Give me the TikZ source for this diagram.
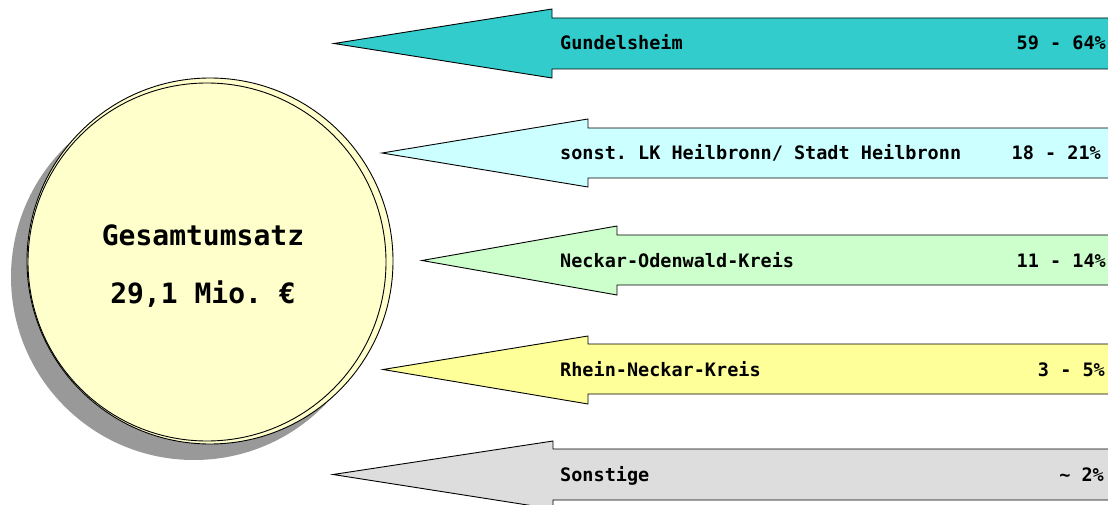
\documentclass[tikz,border=0pt]{standalone}
\usepackage{fontspec}
\setmonofont{DejaVu Sans Mono}
\usetikzlibrary{positioning}

\definecolor{teal}{HTML}{33CCCC}
\definecolor{icecyan}{HTML}{CCFFFF}
\definecolor{mintgreen}{HTML}{CCFFCC}
\definecolor{paleyellow}{HTML}{FFFF99}
\definecolor{lightgrey}{HTML}{DDDDDD}
\definecolor{cream}{HTML}{FFFFCC}
\definecolor{shadowgrey}{HTML}{999999}

\begin{document}
\begin{tikzpicture}[x=1pt,y=-1pt]
		\tikzstyle{Coin} = [circle, inner sep=0pt, draw=black, line width=0.9pt, fill=cream]
		\tikzstyle{Region} = [draw=black, line width=0.9pt, line join=miter]
		\tikzstyle{Label} = [inner sep=0pt, font=\ttfamily\bfseries\fontsize{18.5}{20}\selectfont]
		\tikzstyle{Total} = [inner sep=0pt, font=\ttfamily\bfseries\fontsize{28}{30}\selectfont]
		
		\useasboundingbox (0,0) rectangle (1108,505);
		
		% total turnover
		\node (shadow) [circle, inner sep=0pt, fill=shadowgrey, minimum size=366pt] at (194,277) {};
		\node (backCoin) [Coin, minimum size=366pt] at (210,261) {};
		\node (frontCoin) [Coin, minimum size=358pt] at (207,262) {};
		\node (total) [Total, anchor=base] at (203,245) {Gesamtumsatz};
		\node (amount) [Total, anchor=base] at (203,303) {29,1 Mio. €};
		
		% shares
		\draw [Region, fill=teal] (334,43.5) -- (552,9) -- (552,18) -- (1130,18) -- (1130,69) -- (552,69) -- (552,78) -- cycle;
		\draw [Region, fill=icecyan] (382,153) -- (588,119) -- (588,128) -- (1130,128) -- (1130,178) -- (588,178) -- (588,187) -- cycle;
		\draw [Region, fill=mintgreen] (422,260.5) -- (617,226) -- (617,235) -- (1130,235) -- (1130,285) -- (617,285) -- (617,295) -- cycle;
		\draw [Region, fill=paleyellow] (383,369.5) -- (588,336) -- (588,344) -- (1130,344) -- (1130,394) -- (588,394) -- (588,404) -- cycle;
		\draw [Region, fill=lightgrey] (333,474.5) -- (553,441) -- (553,449) -- (1130,449) -- (1130,500) -- (553,500) -- (553,509) -- cycle;
		
		\node (gundelsheim) [Label, anchor=base west] at (560,50) {Gundelsheim};
		\node (gundelsheimPct) [Label, anchor=base east] at (1106,50) {59 - 64\%};
		\node (heilbronn) [Label, anchor=base west] at (560,160) {sonst. LK Heilbronn/ Stadt Heilbronn};
		\node (heilbronnPct) [Label, anchor=base east] at (1101,160) {18 - 21\%};
		\node (odenwald) [Label, anchor=base west] at (560,267) {Neckar-Odenwald-Kreis};
		\node (odenwaldPct) [Label, anchor=base east] at (1106,267) {11 - 14\%};
		\node (rhein) [Label, anchor=base west] at (560,376) {Rhein-Neckar-Kreis};
		\node (rheinPct) [Label, anchor=base east] at (1105,376) {3 - 5\%};
		\node (sonstige) [Label, anchor=base west] at (560,481) {Sonstige};
		\node (sonstigePct) [Label, anchor=base east] at (1104,481) {\textasciitilde{} 2\%};
\end{tikzpicture}
\end{document}
